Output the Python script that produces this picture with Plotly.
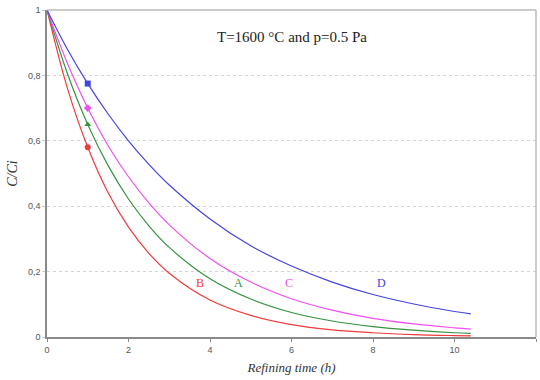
import plotly.graph_objects as go

t = [0, 0.5, 1, 1.5, 2, 2.5, 3, 4, 5, 6, 7, 8, 9, 10, 10.4]
curve_D = [1, 0.880, 0.775, 0.682, 0.600, 0.528, 0.465, 0.361, 0.279, 0.217, 0.168, 0.130, 0.101, 0.078, 0.071]
curve_C = [1, 0.837, 0.700, 0.585, 0.490, 0.410, 0.343, 0.240, 0.168, 0.117, 0.082, 0.057, 0.040, 0.028, 0.024]
curve_A = [1, 0.806, 0.650, 0.524, 0.422, 0.340, 0.274, 0.178, 0.116, 0.075, 0.049, 0.032, 0.021, 0.013, 0.011]
curve_B = [1, 0.761, 0.580, 0.441, 0.336, 0.256, 0.195, 0.113, 0.066, 0.038, 0.022, 0.013, 0.0074, 0.0043, 0.0035]

point_t = [1]
point_D = [0.775]
point_C = [0.700]
point_A = [0.650]
point_B = [0.580]

labels = ["B", "A", "C", "D"]
label_x = [3.75, 4.7, 5.95, 8.2]
label_y = [0.165, 0.165, 0.165, 0.165]

y_tickvals = [0, 0.2, 0.4, 0.6, 0.8, 1]
y_ticktext = ["0", "0,2", "0,4", "0,6", "0,8", "1"]
x_tickvals = [0, 2, 4, 6, 8, 10, 12]

colors = {"D": "#4444e0", "C": "#ee50ee", "A": "#36923f", "B": "#ee3b3b"}
symbols = {"D": "square", "C": "diamond", "A": "triangle-up", "B": "circle"}

fig = go.Figure()
series = [("B", curve_B, point_B), ("A", curve_A, point_A), ("C", curve_C, point_C), ("D", curve_D, point_D)]
for name, ys, py in series:
    fig.add_trace(go.Scatter(x=t, y=ys, mode="lines", line=dict(color=colors[name], width=1.2, shape="spline"),
                             showlegend=False, hoverinfo="skip"))
    fig.add_trace(go.Scatter(x=point_t, y=py, mode="markers",
                             marker=dict(color=colors[name], symbol=symbols[name], size=6),
                             showlegend=False))

for lab, lx, ly in zip(labels, label_x, label_y):
    fig.add_annotation(x=lx, y=ly, text=lab, showarrow=False,
                       font=dict(family="Liberation Serif", size=12, color=colors[lab]))

fig.add_annotation(x=0.501, y=0.917, xref="paper", yref="paper", text="T=1600 °C and p=0.5 Pa", showarrow=False,
                   font=dict(family="Liberation Serif", size=15, color="#222"), xanchor="center", yanchor="middle")

# light frame on top and right
fig.add_shape(type="line", xref="paper", yref="paper", x0=0, x1=1, y0=1, y1=1,
              line=dict(color="#bbbbbb", width=1.5))
fig.add_shape(type="line", xref="paper", yref="paper", x0=1, x1=1, y0=0, y1=1,
              line=dict(color="#bbbbbb", width=1.5))

fig.update_layout(
    width=540, height=380,
    margin=dict(l=47, r=4, t=10, b=43),
    paper_bgcolor="white", plot_bgcolor="white",
    xaxis=dict(range=[0, 12], tickvals=x_tickvals, showgrid=False, zeroline=False,
               showline=True, linecolor="#8a8a8a", linewidth=1.5,
               ticks="outside", ticklen=3, tickcolor="#8a8a8a",
               tickfont=dict(family="Arial", size=9, color="#555"),
               title=dict(text="Refining time (h)", standoff=9,
                          font=dict(family="Liberation Serif", size=13, color="#333", style="italic"))),
    yaxis=dict(range=[0, 1], tickvals=y_tickvals, ticktext=y_ticktext, showgrid=True,
               gridcolor="#d4d4d4", griddash="dot", gridwidth=1, zeroline=False,
               showline=True, linecolor="#8a8a8a", linewidth=1.5,
               ticks="outside", ticklen=3, tickcolor="#cccccc",
               tickfont=dict(family="Arial", size=9, color="#555"),
               title=dict(text="C/Ci", standoff=7,
                          font=dict(family="Liberation Serif", size=14, color="#333", style="italic"))),
)

fig.write_html("out.html")
